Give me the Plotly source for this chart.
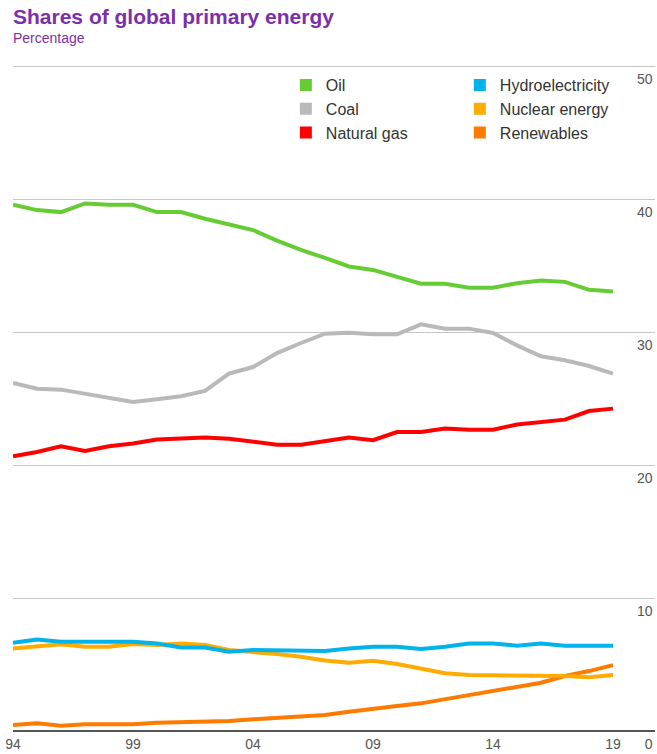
import plotly.graph_objects as go

years = list(range(1994, 2020))

oil = [39.6, 39.2, 39.05, 39.7, 39.6, 39.6, 39.05, 39.05, 38.55, 38.1, 37.7, 36.9,
       36.2, 35.6, 34.96, 34.7, 34.16, 33.66, 33.66, 33.36, 33.36, 33.7, 33.9, 33.8,
       33.2, 33.08]
coal = [26.2, 25.76, 25.69, 25.39, 25.06, 24.76, 24.96, 25.19, 25.59, 26.89, 27.39, 28.44,
        29.2, 29.9, 29.97, 29.85, 29.85, 30.6, 30.28, 30.28, 29.95, 29.02, 28.2, 27.9,
        27.47, 26.89]
gas = [20.68, 21.0, 21.43, 21.08, 21.43, 21.63, 21.93, 22.0, 22.08, 22.0, 21.75, 21.55,
       21.55, 21.8, 22.08, 21.88, 22.5, 22.5, 22.76, 22.68, 22.68, 23.06, 23.26, 23.43,
       24.08, 24.26]
hydro = [6.64, 6.89, 6.72, 6.72, 6.72, 6.72, 6.59, 6.29, 6.29, 5.96, 6.09, 6.09,
         6.09, 6.02, 6.21, 6.34, 6.34, 6.17, 6.34, 6.59, 6.59, 6.42, 6.59, 6.42,
         6.42, 6.42]
nuclear = [6.21, 6.34, 6.52, 6.34, 6.34, 6.54, 6.47, 6.59, 6.47, 6.09, 5.96, 5.79,
           5.59, 5.3, 5.14, 5.29, 5.04, 4.71, 4.34, 4.21, 4.21, 4.21, 4.21, 4.14,
           4.04, 4.21]
renew = [0.45, 0.58, 0.4, 0.5, 0.5, 0.5, 0.62, 0.65, 0.75, 0.75, 0.88, 1.0,
         1.13, 1.2, 1.45, 1.7, 1.88, 2.08, 2.38, 2.71, 3.03, 3.33, 3.63, 4.14,
         4.51, 4.96]

tick_years = [1994, 1999, 2004, 2009, 2014, 2019]
tick_text = ["94", "99", "04", "09", "14", "19"]
y_ticks = [0, 10, 20, 30, 40, 50]
# figure space in front of the single digit so it lines up on the right like the others
y_text = ["\u20070", "10", "20", "30", "40", "50"]

# name, values, colour, which legend column
series = [
    ("Oil", oil, "#66cc33", "legend"),
    ("Coal", coal, "#b9b9bb", "legend"),
    ("Natural gas", gas, "#ff0000", "legend"),
    ("Hydroelectricity", hydro, "#00b4eb", "legend2"),
    ("Nuclear energy", nuclear, "#ffab00", "legend2"),
    ("Renewables", renew, "#ff7b00", "legend2"),
]

purple = "#7b2fa8"
grey_txt = "#555555"

fig = go.Figure()

# lines, drawn bottom series first so the big ones sit on top
for name, vals, col, leg in reversed(series):
    fig.add_trace(go.Scatter(x=years, y=vals, mode="lines", name=name,
                             line=dict(color=col, width=4), showlegend=False,
                             hoverinfo="x+y+name"))

# square swatches for the two legend columns
for name, vals, col, leg in series:
    fig.add_trace(go.Scatter(x=[None], y=[None], mode="markers", name=name,
                             marker=dict(symbol="square", size=12, color=col),
                             legend=leg, showlegend=True))

leg_common = dict(orientation="v", yanchor="top", xanchor="left",
                  bgcolor="rgba(0,0,0,0)", font=dict(size=16, color="#333333"),
                  tracegroupgap=0, itemclick=False, itemdoubleclick=False)

fig.update_layout(
    width=657, height=754,
    margin=dict(l=13, r=2, t=65, b=23),
    paper_bgcolor="white", plot_bgcolor="white",
    font=dict(family="Liberation Sans, Arial, sans-serif", color=grey_txt),
    legend=dict(x=0.425, y=0.9955, **leg_common),
    legend2=dict(x=0.696, y=0.9955, **leg_common),
    xaxis=dict(range=[1994, 2020.75], tickvals=tick_years, ticktext=tick_text,
               showgrid=False, zeroline=False, showline=False, ticks="",
               ticklabelstandoff=3, automargin=False,
               tickfont=dict(size=14, color=grey_txt), fixedrange=True),
    # top a hair above 50 so the 50 gridline is not dropped at the edge
    yaxis=dict(range=[0, 50.12], tickvals=y_ticks, ticktext=y_text, side="right",
               ticklabelposition="outside", ticklabelstandoff=-19,
               ticklabelshift=13, ticks="", automargin=False,
               showgrid=True, gridcolor="#c6c6c6", gridwidth=1,
               zeroline=True, zerolinecolor="#555555", zerolinewidth=1.5,
               showline=False, tickfont=dict(size=14, color=grey_txt),
               fixedrange=True),
    annotations=[
        dict(text="<b>Shares of global primary energy</b>", xref="paper", yref="paper",
             x=0, y=1.0725, xanchor="left", yanchor="middle", showarrow=False,
             xshift=-2, font=dict(size=21, color=purple)),
        dict(text="Percentage", xref="paper", yref="paper",
             x=0, y=1.0405, xanchor="left", yanchor="middle", showarrow=False,
             xshift=-2, font=dict(size=14, color=purple)),
    ],
)

# the page body has an 8px default margin; drop it so the figure sits at 0,0
fig.write_html("out.html", config={"displayModeBar": False},
               post_script="document.body.style.margin='0';")
